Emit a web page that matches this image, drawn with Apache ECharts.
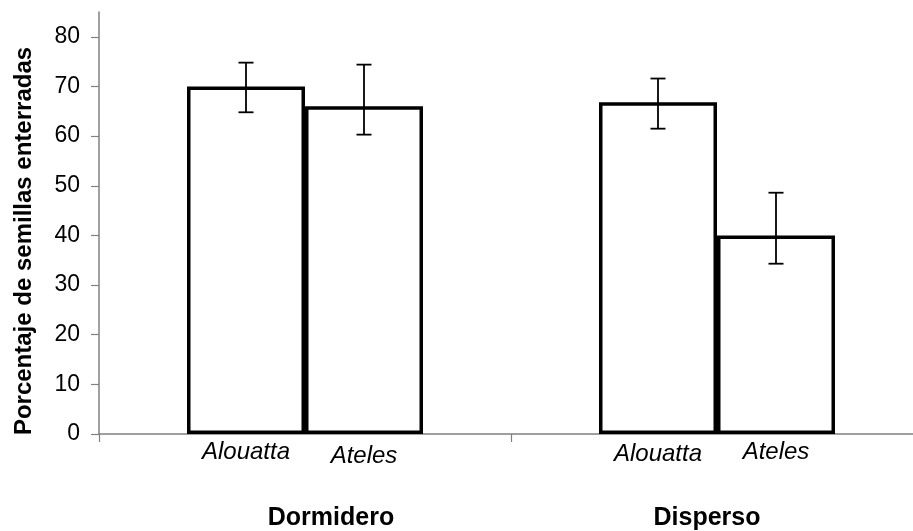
<!DOCTYPE html>
<html>
<head>
<meta charset="utf-8">
<script src="https://cdn.jsdelivr.net/npm/echarts@6/dist/echarts.min.js"></script>
<style>
html,body{margin:0;padding:0;background:#fff;width:913px;height:531px;overflow:hidden;}
#chart{width:923px;height:531px;}
</style>
</head>
<body>
<div id="chart"></div>
<script>
// ---- data ----
const categories = ['Dormidero', 'Disperso'];
const speciesNames = ['Alouatta', 'Ateles'];
const alouattaValues = [70, 66.8];
const atelesValues = [66, 40];
const alouattaLow = [64.8, 61.5];
const alouattaHigh = [74.8, 71.6];
const atelesLow = [60.3, 34.3];
const atelesHigh = [74.4, 48.6];
const yTickValues = [0, 10, 20, 30, 40, 50, 60, 70, 80];
const yAxisTitle = 'Porcentaje de semillas enterradas';

// ---- style constants ----
const BAR_W = 118;
const FONT = '"Liberation Sans", Arial, sans-serif';
const AXIS_GREY = '#808080';
const groupLabelPadding = [[0, 0, 0, 52], [0, 20, 0, 0]];
const speciesLabelNudge = [[0, 2], [4, 0]]; // [alouatta per cat], [ateles per cat] vertical px

const chart = echarts.init(document.getElementById('chart'));

function errorSeries(name, lo, hi, sign) {
  return {
    name: name + ' err',
    type: 'custom',
    z: 10,
    data: categories.map((c, i) => [i, lo[i], hi[i]]),
    encode: { x: 0, y: [1, 2] },
    renderItem: function (params, api) {
      const i = api.value(0);
      const pLo = api.coord([i, api.value(1)]);
      const pHi = api.coord([i, api.value(2)]);
      const x = pLo[0] + sign * BAR_W / 2;
      const cap = 7.5;
      const st = { stroke: '#000', lineWidth: 1.8 };
      return {
        type: 'group',
        children: [
          { type: 'line', shape: { x1: x, y1: pLo[1], x2: x, y2: pHi[1] }, style: st },
          { type: 'line', shape: { x1: x - cap, y1: pLo[1], x2: x + cap, y2: pLo[1] }, style: st },
          { type: 'line', shape: { x1: x - cap, y1: pHi[1], x2: x + cap, y2: pHi[1] }, style: st }
        ]
      };
    }
  };
}

function barSeries(name, values, nudge) {
  return {
    name: name,
    type: 'bar',
    barWidth: BAR_W,
    barGap: '0%',
    itemStyle: { color: '#fff', borderColor: '#000', borderWidth: 3.5 },
    label: {
      show: true,
      position: 'bottom',
      distance: 6,
      formatter: '{a}',
      fontFamily: FONT,
      fontStyle: 'italic',
      fontSize: 24,
      color: '#000'
    },
    data: values.map((v, i) => ({ value: v, label: { offset: [0, nudge[i]] } }))
  };
}

chart.setOption({
  animation: false,
  backgroundColor: '#fff',
  grid: { left: 99, right: 0, top: 12, bottom: 96, containLabel: false },
  xAxis: {
    type: 'category',
    data: categories.map((c, i) => ({ value: c, textStyle: { padding: groupLabelPadding[i] } })),
    axisLine: { lineStyle: { color: AXIS_GREY, width: 1.5 } },
    axisTick: { show: true, length: 8, lineStyle: { color: AXIS_GREY, width: 1.2 } },
    axisLabel: {
      margin: 72,
      fontFamily: FONT,
      fontWeight: 'bold',
      fontSize: 25,
      color: '#000'
    },
    splitLine: { show: false }
  },
  yAxis: {
    type: 'value',
    min: 0,
    max: 85,
    interval: 10,
    name: yAxisTitle,
    nameLocation: 'middle',
    nameGap: 63,
    nameTextStyle: {
      fontFamily: FONT,
      fontWeight: 'bold',
      fontSize: 24,
      color: '#000',
      padding: [0, 36, 0, 0]
    },
    axisLine: { show: true, lineStyle: { color: AXIS_GREY, width: 1.5 } },
    axisTick: { show: true, length: 8, customValues: yTickValues, lineStyle: { color: AXIS_GREY, width: 1.2 } },
    axisLabel: {
      customValues: yTickValues,
      margin: 19,
      fontFamily: FONT,
      fontSize: 23,
      color: '#000'
    },
    splitLine: { show: false }
  },
  series: [
    barSeries(speciesNames[0], alouattaValues, speciesLabelNudge[0]),
    barSeries(speciesNames[1], atelesValues, speciesLabelNudge[1]),
    errorSeries(speciesNames[0], alouattaLow, alouattaHigh, -1),
    errorSeries(speciesNames[1], atelesLow, atelesHigh, 1)
  ]
});
</script>
</body>
</html>
